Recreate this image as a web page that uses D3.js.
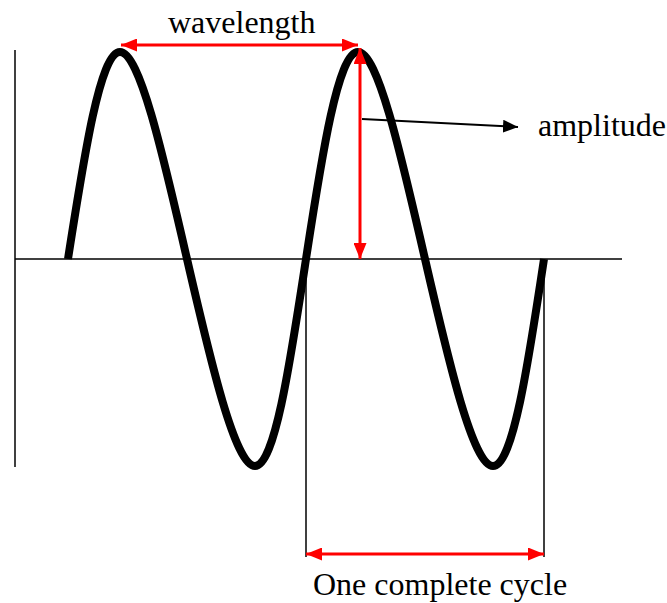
<!DOCTYPE html>
<html>
<head>
<meta charset="utf-8">
<script src="https://cdn.jsdelivr.net/npm/d3@7"></script>
<style>
  body { margin: 0; background: #fff; }
  text { font-family: "Liberation Serif", "Times New Roman", serif; font-size: 32px; fill: #000; }
</style>
</head>
<body>
<div id="chart"></div>
<script>
// wave key points (x in plot units from the vertical axis, y in amplitudes)
var waveX = [53, 105, 172, 240, 291, 343, 410, 478, 529];
var waveY = [0, 1, 0, -1, 0, 1, 0, -1, 0];

// annotation positions in the same units
var peakIdx = [1, 5];        // wavelength between these peaks
var cycleIdx = [4, 8];       // one complete cycle between these zeros
var labels = ["wavelength", "amplitude", "One complete cycle"];

var w = 667, h = 603;

var x = d3.scaleLinear().domain([0, 607]).range([15, 622]);
var y = d3.scaleLinear().domain([-1, 1]).range([466, 52]);

var svg = d3.select("#chart").append("svg")
    .attr("width", w).attr("height", h);

var defs = svg.append("defs");
function marker(id, color, len, half) {
  defs.append("marker")
      .attr("id", id)
      .attr("markerUnits", "userSpaceOnUse")
      .attr("viewBox", "0 " + (-half) + " " + len + " " + (2 * half))
      .attr("refX", len).attr("refY", 0)
      .attr("markerWidth", len).attr("markerHeight", 2 * half)
      .attr("orient", "auto-start-reverse")
    .append("path")
      .attr("d", "M0," + (-half) + "L" + len + ",0L0," + half + "Z")
      .attr("fill", color);
}
marker("redHead", "#ff0000", 16, 6.5);
marker("blackHead", "#000", 15, 6.5);

// axes
svg.append("line")
    .attr("x1", x(0)).attr("x2", x(0))
    .attr("y1", 50).attr("y2", 467)
    .attr("stroke", "#000").attr("stroke-width", 1.5);
svg.append("line")
    .attr("x1", x(0)).attr("x2", x(607))
    .attr("y1", y(0)).attr("y2", y(0))
    .attr("stroke", "#000").attr("stroke-width", 1.5);

// cycle markers
cycleIdx.forEach(function (i) {
  svg.append("line")
      .attr("x1", x(waveX[i])).attr("x2", x(waveX[i]))
      .attr("y1", y(0)).attr("y2", 557)
      .attr("stroke", "#000").attr("stroke-width", 1.5);
});

// the wave
var pts = waveX.map(function (d, i) { return [d, waveY[i]]; });
var line = d3.line()
    .x(function (d) { return x(d[0]); })
    .y(function (d) { return y(d[1]); })
    .curve(d3.curveNatural);

svg.append("path")
    .attr("d", line(pts))
    .attr("fill", "none")
    .attr("stroke", "#000")
    .attr("stroke-width", 8)
    .attr("stroke-linejoin", "round");

// wavelength arrow
var pk1 = x(waveX[peakIdx[0]]) + 1, pk2 = x(waveX[peakIdx[1]]);
svg.append("line")
    .attr("x1", pk1).attr("x2", pk2)
    .attr("y1", 45).attr("y2", 45)
    .attr("stroke", "#ff0000").attr("stroke-width", 3)
    .attr("marker-start", "url(#redHead)")
    .attr("marker-end", "url(#redHead)");

// amplitude arrow (red, vertical)
svg.append("line")
    .attr("x1", pk2 + 2).attr("x2", pk2 + 2)
    .attr("y1", 48).attr("y2", y(0))
    .attr("stroke", "#ff0000").attr("stroke-width", 3)
    .attr("marker-start", "url(#redHead)")
    .attr("marker-end", "url(#redHead)");

// pointer to amplitude label
svg.append("line")
    .attr("x1", pk2 + 4).attr("x2", 518)
    .attr("y1", 119).attr("y2", 127)
    .attr("stroke", "#000").attr("stroke-width", 2)
    .attr("marker-end", "url(#blackHead)");

// cycle arrow
svg.append("line")
    .attr("x1", x(waveX[cycleIdx[0]])).attr("x2", x(waveX[cycleIdx[1]]))
    .attr("y1", 554).attr("y2", 554)
    .attr("stroke", "#ff0000").attr("stroke-width", 3)
    .attr("marker-start", "url(#redHead)")
    .attr("marker-end", "url(#redHead)");

// labels
svg.append("text").attr("x", 168).attr("y", 33).text(labels[0]);
svg.append("text").attr("x", 538).attr("y", 136).text(labels[1]);
svg.append("text").attr("x", 313).attr("y", 595).text(labels[2]);
</script>
</body>
</html>
